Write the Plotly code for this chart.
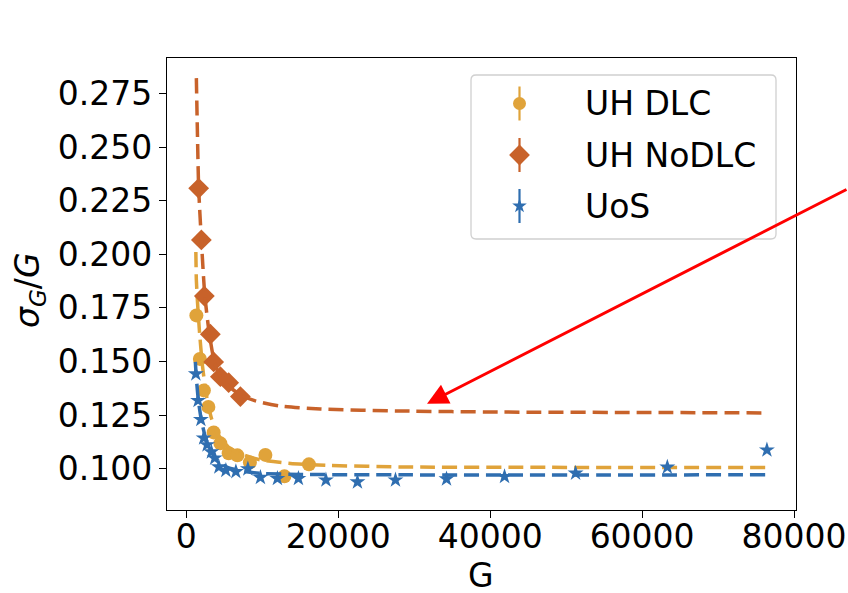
import plotly.graph_objects as go

# ---------------- data ----------------
dlc_G = [1343, 1804, 2330, 2923, 3621, 4503, 5596, 6741, 8387, 10428, 12930, 16155]
dlc_v = [0.1715, 0.1512, 0.1365, 0.1288, 0.1169, 0.1118, 0.1072, 0.1062, 0.1029, 0.1064, 0.0964, 0.1020]

nodlc_G = [1646, 2001, 2396, 3186, 3621, 4503, 5596, 7136]
nodlc_v = [0.2308, 0.2067, 0.1805, 0.1627, 0.1498, 0.1429, 0.1401, 0.1336]

uos_G = [1277, 1567, 1935, 2304, 2752, 3318, 3752, 4305, 5227, 6544, 8124, 9770,
         12008, 14773, 18394, 22541, 27545, 34260, 41896, 51245, 63318, 76422]
uos_v = [0.1442, 0.1318, 0.1229, 0.1143, 0.1111, 0.1078, 0.1049, 0.1008, 0.0992, 0.0986, 0.0999, 0.0959,
         0.0954, 0.0954, 0.0947, 0.0938, 0.0947, 0.0952, 0.0963, 0.0979, 0.1007, 0.1087]

# fitted curves
fit_dlc_G = [1277, 1343, 1475, 1738, 2133, 2660, 3318, 4240, 5556, 7136, 9770, 13720, 18986, 28203, 47953, 76392]
fit_dlc_v = [0.2011, 0.1880, 0.1787, 0.1647, 0.1484, 0.1344, 0.1236, 0.1157, 0.1101, 0.1069, 0.1041, 0.1024,
             0.1015, 0.1008, 0.1006, 0.1005]

fit_nodlc_G = [1343, 1475, 1646, 2001, 2462, 3055, 3713, 4503, 5556, 7136, 9111, 12403, 17670, 28203, 41369, 61119, 76392]
fit_nodlc_v = [0.2822, 0.2580, 0.2309, 0.2067, 0.1805, 0.1628, 0.1498, 0.1428, 0.1386, 0.1344, 0.1316, 0.1292,
               0.1278, 0.1269, 0.1264, 0.1262, 0.1260]

fit_uos_G = [1211, 1343, 1606, 2001, 2528, 3186, 4108, 5293, 7136, 9770, 15036, 28203, 76392]
fit_uos_v = [0.1498, 0.1423, 0.1320, 0.1227, 0.1148, 0.1087, 0.1041, 0.1008, 0.0989, 0.0978, 0.0973, 0.0971, 0.0971]

series_names = ["UH DLC", "UH NoDLC", "UoS"]

x_ticks = [0, 20000, 40000, 60000, 80000]
x_ticklabels = ["0", "20000", "40000", "60000", "80000"]
y_ticks = [0.100, 0.125, 0.150, 0.175, 0.200, 0.225, 0.250, 0.275]
y_ticklabels = ["0.100", "0.125", "0.150", "0.175", "0.200", "0.225", "0.250", "0.275"]

arrow_tip = (31700, 0.1303)

# ---------------- style ----------------
C_DLC = "#E0A33A"
C_NODLC = "#C8622A"
C_UOS = "#2F6EB0"
FONT = "DejaVu Sans"
FS = 33

W, H = 848, 593
L, R, T, B = 167, 796, 58, 510   # plot area in pixels
PW, PH = R - L, B - T

fig = go.Figure()

def fit_trace(xs, ys, color):
    return go.Scatter(x=xs, y=ys, mode="lines", line=dict(color=color, width=3.5, dash="15px,7px",
                      shape="spline", smoothing=0.6), showlegend=False, hoverinfo="skip")

fig.add_trace(go.Scatter(x=dlc_G, y=dlc_v, mode="markers",
                         marker=dict(symbol="circle", size=14, color=C_DLC), showlegend=False))
fig.add_trace(fit_trace(fit_dlc_G, fit_dlc_v, C_DLC))
fig.add_trace(go.Scatter(x=nodlc_G, y=nodlc_v, mode="markers",
                         marker=dict(symbol="diamond", size=16, color=C_NODLC), showlegend=False))
fig.add_trace(fit_trace(fit_nodlc_G, fit_nodlc_v, C_NODLC))
fig.add_trace(go.Scatter(x=uos_G, y=uos_v, mode="markers",
                         marker=dict(symbol="star", size=12, color=C_UOS), showlegend=False))
fig.add_trace(fit_trace(fit_uos_G, fit_uos_v, C_UOS))

# ---------------- manual legend (pixel overlay axes) ----------------
leg_x0, leg_x1, leg_y0, leg_y1 = 471 - L, 776 - L, 75 - T, 239 - T
rows_y = [103.5 - T, 155 - T, 206 - T]
sym_x = 519.5 - L
syms = ["circle", "diamond", "star"]
sizes = [13, 16, 11]
cols = [C_DLC, C_NODLC, C_UOS]
for ry, s, sz, c in zip(rows_y, syms, sizes, cols):
    fig.add_trace(go.Scatter(x=[sym_x], y=[ry], xaxis="x2", yaxis="y2", mode="markers",
                             marker=dict(symbol=s, size=sz, color=c),
                             error_y=dict(type="data", array=[17], color=c, thickness=2.2, width=0),
                             showlegend=False, hoverinfo="skip"))

r = 5
path = (f"M {leg_x0 + r},{leg_y0} L {leg_x1 - r},{leg_y0} Q {leg_x1},{leg_y0} {leg_x1},{leg_y0 + r} "
        f"L {leg_x1},{leg_y1 - r} Q {leg_x1},{leg_y1} {leg_x1 - r},{leg_y1} "
        f"L {leg_x0 + r},{leg_y1} Q {leg_x0},{leg_y1} {leg_x0},{leg_y1 - r} "
        f"L {leg_x0},{leg_y0 + r} Q {leg_x0},{leg_y0} {leg_x0 + r},{leg_y0} Z")
shapes = [dict(type="path", path=path, xref="x2", yref="y2", line=dict(color="#d0d0d0", width=1.3),
               fillcolor="rgba(255,255,255,0.8)", layer="below")]

annotations = []
for ry, name in zip(rows_y, series_names):
    annotations.append(dict(x=583 - L, y=ry, xref="x2", yref="y2", text=name, showarrow=False,
                            xanchor="left", yanchor="middle", font=dict(family=FONT, size=FS, color="black")))

# axis titles
annotations.append(dict(x=(481 - L) / PW, y=(B - 575) / PH, xref="paper", yref="paper", text="G",
                        showarrow=False, xanchor="center", yanchor="middle", borderpad=0,
                        font=dict(family=FONT, size=FS, color="black")))
annotations.append(dict(x=(29 - L) / PW, y=(B - 290) / PH, xref="paper", yref="paper",
                        text="<i>σ</i><sub><i>G</i></sub>/<i>G</i>", textangle=-90,
                        showarrow=False, xanchor="center", yanchor="middle",
                        font=dict(family=FONT, size=FS, color="black")))

# red arrow
annotations.append(dict(x=arrow_tip[0], y=arrow_tip[1], xref="x", yref="y", text="", showarrow=True,
                        ax=424, ay=-215, axref="pixel", ayref="pixel",
                        arrowhead=2, arrowsize=1.4, arrowwidth=3, arrowcolor="#ff0000"))

axis_common = dict(showline=True, linecolor="black", linewidth=1.3, mirror=True, ticks="outside",
                   ticklen=7, tickwidth=1.2, tickcolor="black", showgrid=False, zeroline=False,
                   tickfont=dict(family=FONT, size=FS, color="black"))

fig.update_layout(
    width=W, height=H,
    margin=dict(l=L, r=W - R, t=T, b=H - B, autoexpand=False),
    paper_bgcolor="white", plot_bgcolor="white",
    showlegend=False,
    xaxis=dict(range=[-2520, 80250], tickvals=x_ticks, ticktext=x_ticklabels,
               ticklabelstandoff=-10, **axis_common),
    yaxis=dict(range=[0.0807, 0.2916], tickvals=y_ticks, ticktext=y_ticklabels, **axis_common),
    xaxis2=dict(overlaying="x", range=[0, PW], visible=False, fixedrange=True),
    yaxis2=dict(overlaying="y", range=[PH, 0], visible=False, fixedrange=True),
    shapes=shapes,
    annotations=annotations,
)

fig.write_html("out.html", config={"displayModeBar": False},
               post_script="document.body.style.margin='0';document.body.style.padding='0';")
